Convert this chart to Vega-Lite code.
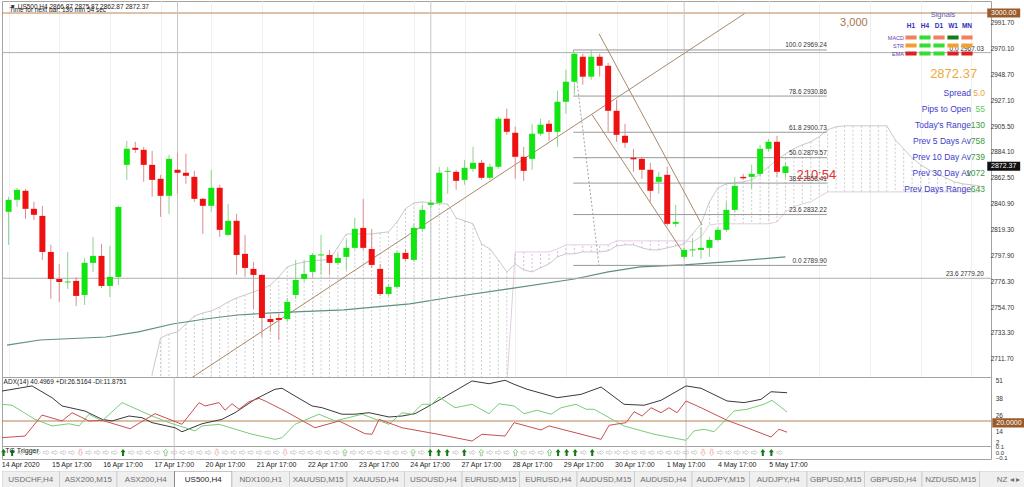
{
"$schema": "https://vega.github.io/schema/vega-lite/v6.json",
"background": "white",
"padding": 0,
"spacing": 0,
"bounds": "flush",
"config": {"font": "Liberation Sans", "view": {"stroke": "#a3a3a3", "strokeWidth": 1}, "axis": {"labelFont": "Liberation Sans", "labelOverlap": false}, "text": {"font": "Liberation Sans"}},
"datasets": {
"candles": [
{"i":0,"o":2834.5,"h":2847.0,"l":2807.0,"c":2844.5},
{"i":1,"o":2844.5,"h":2854.5,"l":2838.6,"c":2852.8},
{"i":2,"o":2852.0,"h":2853.6,"l":2828.6,"c":2837.0},
{"i":3,"o":2837.0,"h":2842.8,"l":2827.8,"c":2832.0},
{"i":4,"o":2831.1,"h":2839.5,"l":2794.5,"c":2801.1},
{"i":5,"o":2801.1,"h":2807.0,"l":2762.0,"c":2778.6},
{"i":6,"o":2778.6,"h":2791.1,"l":2759.5,"c":2776.1},
{"i":7,"o":2775.7,"h":2801.1,"l":2770.3,"c":2776.5},
{"i":8,"o":2777.0,"h":2780.3,"l":2756.1,"c":2764.5},
{"i":9,"o":2765.3,"h":2796.1,"l":2757.0,"c":2792.0},
{"i":10,"o":2792.0,"h":2813.6,"l":2784.5,"c":2797.8},
{"i":11,"o":2797.8,"h":2807.8,"l":2771.1,"c":2772.8},
{"i":12,"o":2772.8,"h":2806.1,"l":2763.6,"c":2780.3},
{"i":13,"o":2780.3,"h":2839.5,"l":2773.6,"c":2838.6},
{"i":14,"o":2873.6,"h":2893.6,"l":2861.1,"c":2887.0},
{"i":15,"o":2887.8,"h":2892.8,"l":2883.6,"c":2886.1},
{"i":16,"o":2886.1,"h":2888.6,"l":2859.5,"c":2873.6},
{"i":17,"o":2873.6,"h":2885.3,"l":2847.0,"c":2861.1},
{"i":18,"o":2862.0,"h":2865.3,"l":2830.3,"c":2847.8},
{"i":19,"o":2847.8,"h":2882.0,"l":2832.8,"c":2878.6},
{"i":20,"o":2869.5,"h":2883.6,"l":2849.5,"c":2867.0},
{"i":21,"o":2867.0,"h":2882.8,"l":2857.8,"c":2864.5},
{"i":22,"o":2863.6,"h":2868.6,"l":2842.8,"c":2845.3},
{"i":23,"o":2845.3,"h":2846.1,"l":2816.1,"c":2839.5},
{"i":24,"o":2839.5,"h":2869.5,"l":2834.5,"c":2854.5},
{"i":25,"o":2854.5,"h":2857.0,"l":2813.6,"c":2819.5},
{"i":26,"o":2815.3,"h":2841.1,"l":2814.5,"c":2827.0},
{"i":27,"o":2827.0,"h":2832.8,"l":2782.0,"c":2798.6},
{"i":28,"o":2799.5,"h":2815.3,"l":2780.3,"c":2787.8},
{"i":29,"o":2787.0,"h":2792.8,"l":2753.6,"c":2782.0},
{"i":30,"o":2782.0,"h":2782.8,"l":2730.3,"c":2746.1},
{"i":31,"o":2745.3,"h":2748.6,"l":2734.5,"c":2742.8},
{"i":32,"o":2746.1,"h":2749.5,"l":2727.8,"c":2744.5},
{"i":33,"o":2745.3,"h":2762.8,"l":2742.8,"c":2759.5},
{"i":34,"o":2765.3,"h":2794.5,"l":2762.0,"c":2777.8},
{"i":35,"o":2778.6,"h":2794.5,"l":2776.1,"c":2782.8},
{"i":36,"o":2784.5,"h":2800.3,"l":2780.3,"c":2798.6},
{"i":37,"o":2798.2,"h":2815.3,"l":2782.0,"c":2799.0},
{"i":38,"o":2798.6,"h":2802.8,"l":2782.0,"c":2792.0},
{"i":39,"o":2792.0,"h":2800.3,"l":2790.3,"c":2796.1},
{"i":40,"o":2797.0,"h":2811.1,"l":2786.1,"c":2804.5},
{"i":41,"o":2804.5,"h":2829.5,"l":2802.8,"c":2820.3},
{"i":42,"o":2821.1,"h":2845.3,"l":2802.8,"c":2804.5},
{"i":43,"o":2803.6,"h":2820.3,"l":2787.8,"c":2790.3},
{"i":44,"o":2787.0,"h":2791.1,"l":2764.5,"c":2766.1},
{"i":45,"o":2766.1,"h":2774.5,"l":2764.5,"c":2772.0},
{"i":46,"o":2772.0,"h":2802.0,"l":2770.3,"c":2800.3},
{"i":47,"o":2800.3,"h":2803.6,"l":2793.6,"c":2795.3},
{"i":48,"o":2794.5,"h":2824.5,"l":2792.8,"c":2821.1},
{"i":49,"o":2820.3,"h":2840.3,"l":2817.8,"c":2836.1},
{"i":50,"o":2840.3,"h":2844.5,"l":2837.8,"c":2842.0},
{"i":51,"o":2842.0,"h":2872.0,"l":2841.1,"c":2867.0},
{"i":52,"o":2867.8,"h":2872.0,"l":2849.5,"c":2868.6},
{"i":53,"o":2867.8,"h":2869.5,"l":2852.8,"c":2860.3},
{"i":54,"o":2861.1,"h":2877.8,"l":2857.0,"c":2871.1},
{"i":55,"o":2870.3,"h":2888.6,"l":2867.8,"c":2875.3},
{"i":56,"o":2875.3,"h":2877.8,"l":2861.1,"c":2862.8},
{"i":57,"o":2862.8,"h":2874.5,"l":2861.1,"c":2872.0},
{"i":58,"o":2872.0,"h":2913.6,"l":2870.3,"c":2912.0},
{"i":59,"o":2912.0,"h":2920.3,"l":2898.6,"c":2901.1},
{"i":60,"o":2900.3,"h":2905.3,"l":2862.0,"c":2880.3},
{"i":61,"o":2880.3,"h":2888.6,"l":2860.3,"c":2868.6},
{"i":62,"o":2878.6,"h":2907.8,"l":2869.5,"c":2899.5},
{"i":63,"o":2899.5,"h":2912.0,"l":2897.8,"c":2907.0},
{"i":64,"o":2907.8,"h":2911.1,"l":2893.6,"c":2901.1},
{"i":65,"o":2901.1,"h":2935.3,"l":2888.6,"c":2926.1},
{"i":66,"o":2926.1,"h":2952.8,"l":2916.1,"c":2942.8},
{"i":67,"o":2942.8,"h":2966.5,"l":2932.0,"c":2966.1},
{"i":68,"o":2963.6,"h":2966.1,"l":2940.3,"c":2947.0},
{"i":69,"o":2947.0,"h":2969.2,"l":2944.5,"c":2963.6},
{"i":70,"o":2963.6,"h":2966.1,"l":2947.0,"c":2956.1},
{"i":71,"o":2956.1,"h":2958.6,"l":2901.1,"c":2918.6},
{"i":72,"o":2918.6,"h":2927.8,"l":2892.8,"c":2898.6},
{"i":73,"o":2897.8,"h":2907.8,"l":2887.8,"c":2892.0},
{"i":74,"o":2879.5,"h":2887.0,"l":2867.8,"c":2878.2},
{"i":75,"o":2878.6,"h":2880.3,"l":2862.0,"c":2869.5},
{"i":76,"o":2869.5,"h":2875.3,"l":2842.8,"c":2852.0},
{"i":77,"o":2859.5,"h":2867.8,"l":2849.5,"c":2863.6},
{"i":78,"o":2865.3,"h":2872.0,"l":2822.8,"c":2824.5},
{"i":79,"o":2824.5,"h":2840.3,"l":2822.0,"c":2826.1},
{"i":80,"o":2797.0,"h":2804.5,"l":2795.3,"c":2802.8},
{"i":81,"o":2802.4,"h":2812.0,"l":2797.0,"c":2803.2},
{"i":82,"o":2802.8,"h":2822.0,"l":2795.3,"c":2804.5},
{"i":83,"o":2804.5,"h":2813.6,"l":2797.0,"c":2811.1},
{"i":84,"o":2811.1,"h":2822.0,"l":2809.5,"c":2819.5},
{"i":85,"o":2819.5,"h":2842.8,"l":2817.8,"c":2836.1},
{"i":86,"o":2836.1,"h":2863.6,"l":2834.5,"c":2856.1},
{"i":87,"o":2863.6,"h":2866.1,"l":2861.1,"c":2862.4},
{"i":88,"o":2863.6,"h":2873.6,"l":2853.6,"c":2866.1},
{"i":89,"o":2866.1,"h":2890.3,"l":2863.6,"c":2887.0},
{"i":90,"o":2887.0,"h":2895.3,"l":2884.5,"c":2892.8},
{"i":91,"o":2892.8,"h":2897.8,"l":2863.6,"c":2867.8},
{"i":92,"o":2866.87,"h":2875.87,"l":2862.87,"c":2872.37}
],
"cloud": [
{"i":17,"a":2699.5,"b":2690},{"i":18,"a":2729.5,"b":2690},{"i":19,"a":2732.8,"b":2690},{"i":20,"a":2734.5,"b":2690},
{"i":21,"a":2741.1,"b":2690},{"i":22,"a":2747.8,"b":2690},{"i":23,"a":2750.3,"b":2690},{"i":24,"a":2752.0,"b":2690},
{"i":25,"a":2755.3,"b":2690},{"i":26,"a":2759.5,"b":2690},{"i":27,"a":2762.8,"b":2690},{"i":28,"a":2765.3,"b":2690},
{"i":29,"a":2767.8,"b":2690},{"i":30,"a":2770.3,"b":2690},{"i":31,"a":2773.6,"b":2690},{"i":32,"a":2780.3,"b":2690},
{"i":33,"a":2788.6,"b":2690},{"i":34,"a":2791.1,"b":2690},{"i":35,"a":2792.8,"b":2690},{"i":36,"a":2793.6,"b":2690},
{"i":37,"a":2794.5,"b":2690},{"i":38,"a":2794.5,"b":2690},{"i":39,"a":2805.3,"b":2690},{"i":40,"a":2816.1,"b":2690},
{"i":41,"a":2816.1,"b":2690},{"i":42,"a":2816.1,"b":2690},{"i":43,"a":2816.1,"b":2690},{"i":44,"a":2817.0,"b":2690},
{"i":45,"a":2817.8,"b":2690},{"i":46,"a":2826.1,"b":2690},{"i":47,"a":2837.0,"b":2690},{"i":48,"a":2842.0,"b":2690},
{"i":49,"a":2842.8,"b":2690},{"i":50,"a":2842.0,"b":2690},{"i":51,"a":2841.1,"b":2690},{"i":52,"a":2841.1,"b":2690},
{"i":53,"a":2829.5,"b":2690},{"i":54,"a":2827.0,"b":2690},{"i":55,"a":2824.5,"b":2690},{"i":56,"a":2807.8,"b":2690},
{"i":57,"a":2803.6,"b":2690},{"i":58,"a":2794.5,"b":2690},{"i":59,"a":2784.5,"b":2690},
{"i":60,"a":2791.1,"b":2801.1},{"i":61,"a":2786.1,"b":2801.1},{"i":62,"a":2784.5,"b":2801.1},{"i":63,"a":2787.8,"b":2801.1},
{"i":64,"a":2791.1,"b":2801.1},{"i":65,"a":2797.0,"b":2803.6},{"i":66,"a":2799.5,"b":2807.0},{"i":67,"a":2799.5,"b":2807.0},
{"i":68,"a":2801.1,"b":2807.0},{"i":69,"a":2801.1,"b":2807.0},{"i":70,"a":2801.1,"b":2807.0},{"i":71,"a":2802.0,"b":2807.0},
{"i":72,"a":2806.1,"b":2810.3},{"i":73,"a":2807.0,"b":2810.3},{"i":74,"a":2807.0,"b":2810.3},{"i":75,"a":2804.5,"b":2810.3},
{"i":76,"a":2802.8,"b":2810.3},{"i":77,"a":2802.8,"b":2810.3},{"i":78,"a":2804.5,"b":2810.3},{"i":79,"a":2806.1,"b":2810.3},
{"i":80,"a":2807.8,"b":2810.3},
{"i":81,"a":2816.1,"b":2809.5},{"i":82,"a":2824.5,"b":2813.6},{"i":83,"a":2842.8,"b":2823.6},{"i":84,"a":2854.5,"b":2824.5},
{"i":85,"a":2857.8,"b":2824.5},{"i":86,"a":2858.6,"b":2824.5},{"i":87,"a":2859.5,"b":2824.5},{"i":88,"a":2861.1,"b":2824.5},
{"i":89,"a":2866.1,"b":2824.5},{"i":90,"a":2872.0,"b":2824.5},{"i":91,"a":2877.8,"b":2826.1},{"i":92,"a":2882.8,"b":2834.5},
{"i":93,"a":2887.0,"b":2838.6},{"i":94,"a":2890.3,"b":2841.1},{"i":95,"a":2892.8,"b":2842.8},{"i":96,"a":2897.0,"b":2847.0},
{"i":97,"a":2902.8,"b":2851.1},{"i":98,"a":2905.3,"b":2851.1},{"i":99,"a":2906.1,"b":2851.1},{"i":100,"a":2906.1,"b":2851.1},
{"i":101,"a":2906.1,"b":2851.1},{"i":102,"a":2906.1,"b":2851.1},{"i":103,"a":2906.1,"b":2851.1},{"i":104,"a":2906.1,"b":2851.1},
{"i":105,"a":2894.5,"b":2851.1},{"i":106,"a":2887.0,"b":2851.1},{"i":107,"a":2879.5,"b":2851.1},{"i":108,"a":2873.6,"b":2851.1},
{"i":109,"a":2869.5,"b":2851.1},{"i":110,"a":2866.1,"b":2851.1},{"i":111,"a":2862.8,"b":2851.1},{"i":112,"a":2859.5,"b":2851.1},
{"i":113,"a":2857.8,"b":2851.1},{"i":114,"a":2857.0,"b":2851.1},{"i":115,"a":2856.1,"b":2851.1}
],
"ma": [
{"i":-0.19,"p":2723.6},{"i":3.7,"p":2727.8},{"i":11.5,"p":2730.3},{"i":15.4,"p":2734.5},{"i":19.4,"p":2741.1},
{"i":23.3,"p":2745.3},{"i":27.1,"p":2748.6},{"i":31.1,"p":2750.3},{"i":39.7,"p":2752.8},{"i":47.5,"p":2757.8},
{"i":52.6,"p":2763.6},{"i":59.2,"p":2770.3},{"i":67,"p":2778.6},{"i":71,"p":2784.5},{"i":74.8,"p":2788.6},
{"i":80,"p":2790.3},{"i":85,"p":2792.8},{"i":92,"p":2797.0}
],
"pticks": [{"p":2991.7},{"p":2970.1},{"p":2948.7},{"p":2927.1},{"p":2905.5},{"p":2884.1},{"p":2862.5},{"p":2840.9},{"p":2819.3},{"p":2797.9},{"p":2776.3},{"p":2754.7},{"p":2733.3},{"p":2711.7}],
"aticks": [{"v":51},{"v":38},{"v":26},{"v":14}],
"sticks": [{"v":0.1},{"v":0.0},{"v":-0.1}],
"hlines": [{"p":2967.03,"label":"0.0    2967.03"},{"p":2779.2,"label":"23.6    2779.20"}],
"fib": [
{"p":2969.24,"label":"100.0   2969.24"},{"p":2930.86,"label":"78.6   2930.86"},{"p":2900.73,"label":"61.8   2900.73"},
{"p":2879.57,"label":"50.0   2879.57"},{"p":2858.41,"label":"38.2   2858.41"},{"p":2832.22,"label":"23.6   2832.22"},
{"p":2789.90,"label":"0.0   2789.90"}
],
"fibdiag": [{"i":66.87,"p":2969.24},{"i":69.92,"p":2789.9}],
"tlines": [
{"id":"up","i":21.62,"p":2696.1},{"id":"up","i":87.15,"p":2999.5},
{"id":"chu","i":69.92,"p":2982.8},{"id":"chu","i":82.11,"p":2823.6},
{"id":"chl","i":69.1,"p":2915.3},{"id":"chl","i":79.77,"p":2802.0}
],
"seps": [{"i":20},{"i":50},{"i":80}],
"adx": [
{"s":"ADX","i":-0.19,"v":41.7},{"s":"ADX","i":3.33,"v":45.4},{"s":"ADX","i":5.67,"v":36.9},{"s":"ADX","i":6.85,"v":30.9},
{"s":"ADX","i":9.54,"v":27.2},{"s":"ADX","i":11.54,"v":21.2},{"s":"ADX","i":12.71,"v":20.0},{"s":"ADX","i":14.7,"v":23.6},
{"s":"ADX","i":16.22,"v":22.4},{"s":"ADX","i":17.4,"v":18.8},{"s":"ADX","i":20.09,"v":15.1},{"s":"ADX","i":20.91,"v":12.2},
{"s":"ADX","i":23.26,"v":18.0},{"s":"ADX","i":25.6,"v":21.2},{"s":"ADX","i":27.13,"v":26.0},{"s":"ADX","i":29.47,"v":35.7},
{"s":"ADX","i":31.82,"v":43.0},{"s":"ADX","i":32.64,"v":43.7},{"s":"ADX","i":34.16,"v":38.1},{"s":"ADX","i":36.16,"v":30.9},
{"s":"ADX","i":37.34,"v":29.6},{"s":"ADX","i":39.67,"v":24.9},{"s":"ADX","i":41.2,"v":24.9},{"s":"ADX","i":42.84,"v":26.0},
{"s":"ADX","i":45.18,"v":22.9},{"s":"ADX","i":46.71,"v":23.6},{"s":"ADX","i":48.23,"v":25.3},{"s":"ADX","i":49.87,"v":30.9},
{"s":"ADX","i":52.21,"v":39.3},{"s":"ADX","i":54.91,"v":49.0},{"s":"ADX","i":56.9,"v":47.0},{"s":"ADX","i":58.78,"v":49.5},
{"s":"ADX","i":59.84,"v":46.6},{"s":"ADX","i":61.36,"v":43.0},{"s":"ADX","i":64.88,"v":36.9},{"s":"ADX","i":67.69,"v":39.3},
{"s":"ADX","i":70.04,"v":44.6},{"s":"ADX","i":72.73,"v":32.1},{"s":"ADX","i":75.08,"v":31.4},{"s":"ADX","i":77.07,"v":35.0},
{"s":"ADX","i":80.0,"v":45.4},{"s":"ADX","i":81.76,"v":43.7},{"s":"ADX","i":84.81,"v":34.5},{"s":"ADX","i":86.8,"v":33.3},
{"s":"ADX","i":88.79,"v":35.7},{"s":"ADX","i":89.96,"v":41.2},{"s":"ADX","i":91.84,"v":40.5},
{"s":"+DI","i":-0.19,"v":32.1},{"s":"+DI","i":0.98,"v":31.4},{"s":"+DI","i":3.68,"v":21.2},{"s":"+DI","i":5.67,"v":16.4},
{"s":"+DI","i":7.67,"v":18.0},{"s":"+DI","i":8.84,"v":16.4},{"s":"+DI","i":10.01,"v":24.9},{"s":"+DI","i":11.54,"v":20.0},
{"s":"+DI","i":13.88,"v":33.3},{"s":"+DI","i":17.4,"v":23.6},{"s":"+DI","i":19.39,"v":18.8},{"s":"+DI","i":22.44,"v":12.8},
{"s":"+DI","i":23.26,"v":16.4},{"s":"+DI","i":25.25,"v":17.6},{"s":"+DI","i":29.12,"v":10.4},{"s":"+DI","i":31.82,"v":6.7},
{"s":"+DI","i":32.64,"v":7.9},{"s":"+DI","i":34.16,"v":17.6},{"s":"+DI","i":36.98,"v":24.9},{"s":"+DI","i":38.86,"v":20.0},
{"s":"+DI","i":42.02,"v":24.9},{"s":"+DI","i":45.18,"v":17.6},{"s":"+DI","i":46.71,"v":26.0},{"s":"+DI","i":47.88,"v":24.9},
{"s":"+DI","i":49.05,"v":32.1},{"s":"+DI","i":50.22,"v":32.1},{"s":"+DI","i":51.04,"v":37.4},{"s":"+DI","i":52.92,"v":29.6},
{"s":"+DI","i":54.91,"v":32.1},{"s":"+DI","i":56.9,"v":25.3},{"s":"+DI","i":58.07,"v":32.5},{"s":"+DI","i":59.84,"v":30.9},
{"s":"+DI","i":61.01,"v":25.3},{"s":"+DI","i":62.53,"v":27.8},{"s":"+DI","i":64.17,"v":24.9},{"s":"+DI","i":65.35,"v":29.6},
{"s":"+DI","i":67.1,"v":32.1},{"s":"+DI","i":68.28,"v":28.5},{"s":"+DI","i":69.22,"v":28.5},{"s":"+DI","i":72.73,"v":16.4},
{"s":"+DI","i":76.25,"v":10.4},{"s":"+DI","i":80.0,"v":6.0},{"s":"+DI","i":80.94,"v":12.8},{"s":"+DI","i":82.11,"v":14.0},
{"s":"+DI","i":83.28,"v":12.2},{"s":"+DI","i":85.63,"v":27.2},{"s":"+DI","i":87.15,"v":28.5},{"s":"+DI","i":89.14,"v":32.1},
{"s":"+DI","i":90.08,"v":35.0},{"s":"+DI","i":91.84,"v":26.5},
{"s":"-DI","i":-0.19,"v":7.9},{"s":"-DI","i":2.51,"v":9.1},{"s":"-DI","i":4.5,"v":24.3},{"s":"-DI","i":6.85,"v":20.0},
{"s":"-DI","i":8.02,"v":26.0},{"s":"-DI","i":10.01,"v":20.0},{"s":"-DI","i":11.54,"v":20.5},{"s":"-DI","i":14.82,"v":14.4},
{"s":"-DI","i":17.75,"v":25.3},{"s":"-DI","i":20.91,"v":17.6},{"s":"-DI","i":22.91,"v":33.3},{"s":"-DI","i":23.61,"v":30.9},
{"s":"-DI","i":25.25,"v":33.3},{"s":"-DI","i":25.96,"v":27.8},{"s":"-DI","i":26.78,"v":32.5},{"s":"-DI","i":27.6,"v":28.5},
{"s":"-DI","i":28.77,"v":34.0},{"s":"-DI","i":29.94,"v":36.4},{"s":"-DI","i":30.65,"v":34.5},{"s":"-DI","i":32.99,"v":27.2},
{"s":"-DI","i":36.51,"v":15.1},{"s":"-DI","i":39.32,"v":20.0},{"s":"-DI","i":42.37,"v":10.8},{"s":"-DI","i":43.19,"v":10.4},
{"s":"-DI","i":44.01,"v":21.2},{"s":"-DI","i":46.71,"v":15.1},{"s":"-DI","i":50.57,"v":10.8},{"s":"-DI","i":54.91,"v":5.5},
{"s":"-DI","i":56.08,"v":10.4},{"s":"-DI","i":58.78,"v":9.1},{"s":"-DI","i":59.84,"v":18.8},{"s":"-DI","i":63.0,"v":13.5},
{"s":"-DI","i":63.94,"v":16.4},{"s":"-DI","i":70.04,"v":6.7},{"s":"-DI","i":70.98,"v":16.9},{"s":"-DI","i":72.97,"v":18.8},
{"s":"-DI","i":73.91,"v":26.7},{"s":"-DI","i":74.85,"v":23.6},{"s":"-DI","i":75.9,"v":29.6},{"s":"-DI","i":77.07,"v":26.0},
{"s":"-DI","i":78.01,"v":29.6},{"s":"-DI","i":78.95,"v":26.0},{"s":"-DI","i":80.0,"v":34.5},{"s":"-DI","i":81.76,"v":29.6},
{"s":"-DI","i":84.81,"v":20.5},{"s":"-DI","i":87.15,"v":15.1},{"s":"-DI","i":89.96,"v":8.4},{"s":"-DI","i":90.9,"v":14.0},
{"s":"-DI","i":91.84,"v":11.9}
],
"arrows": [
{"i":0,"sig":"up"},{"i":1,"sig":"up"},{"i":2,"sig":"flat"},{"i":3,"sig":"flat"},{"i":4,"sig":"flat"},{"i":5,"sig":"flat"},
{"i":6,"sig":"flat"},{"i":7,"sig":"flat"},{"i":8,"sig":"flat"},{"i":9,"sig":"dn"},{"i":10,"sig":"flat"},{"i":11,"sig":"flat"},
{"i":12,"sig":"flat"},{"i":13,"sig":"flat"},{"i":14,"sig":"up"},{"i":15,"sig":"flat"},{"i":16,"sig":"flat"},{"i":17,"sig":"flat"},
{"i":18,"sig":"flat"},{"i":19,"sig":"uph"},{"i":20,"sig":"flat"},{"i":21,"sig":"flat"},{"i":22,"sig":"flat"},{"i":23,"sig":"flat"},
{"i":24,"sig":"flat"},{"i":25,"sig":"dn"},{"i":26,"sig":"flat"},{"i":27,"sig":"flat"},{"i":28,"sig":"flat"},{"i":29,"sig":"flat"},
{"i":30,"sig":"flat"},{"i":31,"sig":"flat"},{"i":32,"sig":"flat"},{"i":33,"sig":"dn"},{"i":34,"sig":"flat"},{"i":35,"sig":"flat"},
{"i":36,"sig":"flat"},{"i":37,"sig":"flat"},{"i":38,"sig":"flat"},{"i":39,"sig":"flat"},{"i":40,"sig":"uph"},{"i":41,"sig":"flat"},
{"i":42,"sig":"flat"},{"i":43,"sig":"flat"},{"i":44,"sig":"flat"},{"i":45,"sig":"flat"},{"i":46,"sig":"flat"},{"i":47,"sig":"flat"},
{"i":48,"sig":"uph"},{"i":49,"sig":"flat"},{"i":50,"sig":"up"},{"i":51,"sig":"up"},{"i":52,"sig":"up"},{"i":53,"sig":"flat"},
{"i":54,"sig":"up"},{"i":55,"sig":"flat"},{"i":56,"sig":"uph"},{"i":57,"sig":"flat"},{"i":58,"sig":"flat"},{"i":59,"sig":"flat"},
{"i":60,"sig":"uph"},{"i":61,"sig":"flat"},{"i":62,"sig":"flat"},{"i":63,"sig":"flat"},{"i":64,"sig":"uph"},{"i":65,"sig":"up"},
{"i":66,"sig":"up"},{"i":67,"sig":"up"},{"i":68,"sig":"flat"},{"i":69,"sig":"up"},{"i":70,"sig":"flat"},{"i":71,"sig":"flat"},
{"i":72,"sig":"flat"},{"i":73,"sig":"flat"},{"i":74,"sig":"flat"},{"i":75,"sig":"flat"},{"i":76,"sig":"flat"},{"i":77,"sig":"flat"},
{"i":78,"sig":"flat"},{"i":79,"sig":"flat"},{"i":80,"sig":"flat"},{"i":81,"sig":"flat"},{"i":82,"sig":"dn"},{"i":83,"sig":"dn"},
{"i":84,"sig":"flat"},{"i":85,"sig":"flat"},{"i":86,"sig":"flat"},{"i":87,"sig":"flat"},{"i":88,"sig":"flat"},{"i":89,"sig":"up"},
{"i":90,"sig":"up"},{"i":91,"sig":"flat"}
],
"dates": [
{"i":2,"t":"14 Apr 2020"},{"i":8,"t":"15 Apr 17:00"},{"i":14,"t":"16 Apr 17:00"},{"i":20,"t":"17 Apr 17:00"},
{"i":26,"t":"20 Apr 17:00"},{"i":32,"t":"21 Apr 17:00"},{"i":38,"t":"22 Apr 17:00"},{"i":44,"t":"23 Apr 17:00"},
{"i":50,"t":"24 Apr 17:00"},{"i":56,"t":"27 Apr 17:00"},{"i":62,"t":"28 Apr 17:00"},{"i":68,"t":"29 Apr 17:00"},
{"i":74,"t":"30 Apr 17:00"},{"i":80,"t":"1 May 17:00"},{"i":86,"t":"4 May 17:00"},{"i":92,"t":"5 May 17:00"}
],
"info": [
{"row":"Spread","val":"5.0"},{"row":"Pips to Open","val":"55"},{"row":"Today's Range","val":"130"},
{"row":"Prev 5 Days Av","val":"758"},{"row":"Prev 10 Day Av","val":"739"},{"row":"Prev 30 Day Av","val":"1072"},
{"row":"Prev Days Range","val":"643"}
],
"signals": [
{"ind":"MACD","tf":"H1","state":"down"},{"ind":"MACD","tf":"H4","state":"up"},{"ind":"MACD","tf":"D1","state":"down"},
{"ind":"MACD","tf":"W1","state":"strong_up"},{"ind":"MACD","tf":"MN","state":"down"},
{"ind":"STR","tf":"H1","state":"neutral"},{"ind":"STR","tf":"H4","state":"up"},{"ind":"STR","tf":"D1","state":"up"},
{"ind":"STR","tf":"W1","state":"neutral"},{"ind":"STR","tf":"MN","state":"neutral"},
{"ind":"EMA","tf":"H1","state":"strong_down"},{"ind":"EMA","tf":"H4","state":"up"},{"ind":"EMA","tf":"D1","state":"up"},
{"ind":"EMA","tf":"W1","state":"strong_down"},{"ind":"EMA","tf":"MN","state":"strong_down"}
],
"tabs": [
{"tab":"USDCHF,H4","active":false},{"tab":"ASX200,M15","active":false},{"tab":"ASX200,H4","active":false},
{"tab":"US500,H4","active":true},{"tab":"NDX100,H1","active":false},{"tab":"XAUUSD,M15","active":false},
{"tab":"XAUUSD,H4","active":false},{"tab":"USOUSD,H4","active":false},{"tab":"EURUSD,M15","active":false},
{"tab":"EURUSD,H4","active":false},{"tab":"AUDUSD,M15","active":false},{"tab":"AUDUSD,H4","active":false},
{"tab":"AUDJPY,M15","active":false},{"tab":"AUDJPY,H4","active":false},{"tab":"GBPUSD,M15","active":false},
{"tab":"GBPUSD,H4","active":false},{"tab":"NZDUSD,M15","active":false},{"tab":"NZ  ◂ ▸","active":false}
]
},
"vconcat": [
{
"width": 989, "height": 376,
"layer": [
{"layer": [
{"data": {"name": "cloud"}, "transform": [{"filter": "datum.a >= datum.b"}],
 "mark": {"type": "rule", "color": "#cdcdcd", "strokeDash": [2, 2], "clip": true},
 "encoding": {
  "x": {"field": "i", "type": "quantitative", "scale": {"domain": [-0.19, 115.75], "nice": false},
        "axis": {"orient": "bottom", "values": [0,3,6,9,12,15,18,21,24,27,30,33,36,39,42,45,48,51,54,57,60,63,66,69,72,75,78,81,84,87,90,93,96,99,102,105,108,111,114], "grid": true, "gridColor": "#f0f0f0", "labels": false, "ticks": false, "domain": false, "title": null}},
  "y": {"field": "a", "type": "quantitative", "scale": {"domain": [2697, 3010], "nice": false}, "axis": null},
  "y2": {"field": "b"}}},
{"data": {"name": "cloud"}, "transform": [{"filter": "datum.a < datum.b"}],
 "mark": {"type": "rule", "color": "#dfb3df", "strokeDash": [2, 2], "clip": true},
 "encoding": {"x": {"field": "i", "type": "quantitative", "scale": {"domain": [-0.19, 115.75], "nice": false}}, "y": {"field": "a", "type": "quantitative", "scale": {"domain": [2697, 3010], "nice": false}}, "y2": {"field": "b"}}},
{"data": {"name": "cloud"}, "mark": {"type": "line", "color": "#c9c9c9", "strokeWidth": 1, "clip": true},
 "encoding": {"x": {"field": "i", "type": "quantitative", "scale": {"domain": [-0.19, 115.75], "nice": false}}, "y": {"field": "a", "type": "quantitative", "scale": {"domain": [2697, 3010], "nice": false}}}},
{"data": {"name": "cloud"}, "mark": {"type": "line", "color": "#e2cde2", "strokeWidth": 1, "clip": true},
 "encoding": {"x": {"field": "i", "type": "quantitative", "scale": {"domain": [-0.19, 115.75], "nice": false}}, "y": {"field": "b", "type": "quantitative", "scale": {"domain": [2697, 3010], "nice": false}}}},
{"data": {"name": "ma"}, "mark": {"type": "line", "color": "#5f8e84", "strokeWidth": 1.2, "clip": true},
 "encoding": {"x": {"field": "i", "type": "quantitative", "scale": {"domain": [-0.19, 115.75], "nice": false}}, "y": {"field": "p", "type": "quantitative", "scale": {"domain": [2697, 3010], "nice": false}}}},
{"data": {"name": "hlines"}, "mark": {"type": "rule", "color": "#adadad"},
 "encoding": {"y": {"field": "p", "type": "quantitative", "scale": {"domain": [2697, 3010], "nice": false}}}},
{"data": {"name": "hlines"}, "mark": {"type": "text", "align": "right", "dy": -4, "fontSize": 6.5, "color": "#333333"},
 "encoding": {"x": {"datum": 115.5, "type": "quantitative", "scale": {"domain": [-0.19, 115.75], "nice": false}}, "y": {"field": "p", "type": "quantitative", "scale": {"domain": [2697, 3010], "nice": false}}, "text": {"field": "label"}}},
{"data": {"values": [{}]}, "mark": {"type": "rule", "color": "#c28350"},
 "encoding": {"y": {"datum": 3000, "type": "quantitative", "scale": {"domain": [2697, 3010], "nice": false}}}},
{"data": {"name": "seps"}, "mark": {"type": "rule", "color": "#c6c6c6"},
 "encoding": {"x": {"field": "i", "type": "quantitative", "scale": {"domain": [-0.19, 115.75], "nice": false}}}},
{"data": {"name": "fib"}, "mark": {"type": "rule", "color": "#999999"},
 "encoding": {"x": {"datum": 66.87, "type": "quantitative", "scale": {"domain": [-0.19, 115.75], "nice": false}}, "x2": {"datum": 96.9}, "y": {"field": "p", "type": "quantitative", "scale": {"domain": [2697, 3010], "nice": false}}}},
{"data": {"name": "fib"}, "mark": {"type": "text", "align": "right", "dy": -4.5, "fontSize": 6.5, "color": "#333333"},
 "encoding": {"x": {"datum": 96.9, "type": "quantitative", "scale": {"domain": [-0.19, 115.75], "nice": false}}, "y": {"field": "p", "type": "quantitative", "scale": {"domain": [2697, 3010], "nice": false}}, "text": {"field": "label"}}},
{"data": {"name": "fibdiag"}, "mark": {"type": "line", "color": "#8c8c8c", "strokeWidth": 0.8, "strokeDash": [2, 2]},
 "encoding": {"x": {"field": "i", "type": "quantitative", "scale": {"domain": [-0.19, 115.75], "nice": false}}, "y": {"field": "p", "type": "quantitative", "scale": {"domain": [2697, 3010], "nice": false}}}},
{"data": {"name": "tlines"}, "mark": {"type": "line", "color": "#a8896a", "strokeWidth": 1, "clip": true},
 "encoding": {"x": {"field": "i", "type": "quantitative", "scale": {"domain": [-0.19, 115.75], "nice": false}}, "y": {"field": "p", "type": "quantitative", "scale": {"domain": [2697, 3010], "nice": false}}, "detail": {"field": "id"}}},
{"data": {"name": "candles"}, "mark": {"type": "rule", "strokeWidth": 1},
 "encoding": {"x": {"field": "i", "type": "quantitative", "scale": {"domain": [-0.19, 115.75], "nice": false}}, "y": {"field": "l", "type": "quantitative", "scale": {"domain": [2697, 3010], "nice": false}}, "y2": {"field": "h"},
  "color": {"condition": {"test": "datum.c >= datum.o", "value": "#8cd48c"}, "value": "#dc8e8e"}}},
{"data": {"name": "candles"}, "mark": {"type": "bar", "size": 6},
 "encoding": {"x": {"field": "i", "type": "quantitative", "scale": {"domain": [-0.19, 115.75], "nice": false}}, "y": {"field": "o", "type": "quantitative", "scale": {"domain": [2697, 3010], "nice": false}}, "y2": {"field": "c"},
  "color": {"condition": {"test": "datum.c >= datum.o", "value": "#11e411"}, "value": "#ee1111"}}},
{"data": {"values": [{}]}, "mark": {"type": "text", "align": "left", "fontSize": 6.5, "color": "#222222", "text": "▼ US500,H4  2866.87 2875.87 2862.87 2872.37"},
 "encoding": {"x": {"datum": 0.1, "type": "quantitative", "scale": {"domain": [-0.19, 115.75], "nice": false}}, "y": {"datum": 3005.3, "type": "quantitative", "scale": {"domain": [2697, 3010], "nice": false}}}},
{"data": {"values": [{}]}, "mark": {"type": "text", "align": "left", "fontSize": 6.5, "color": "#222222", "text": "Time for next bar: 130 min 54 sec"},
 "encoding": {"x": {"datum": 0.1, "type": "quantitative", "scale": {"domain": [-0.19, 115.75], "nice": false}}, "y": {"datum": 3002.6, "type": "quantitative", "scale": {"domain": [2697, 3010], "nice": false}}}},
{"data": {"values": [{}]}, "mark": {"type": "text", "fontSize": 11, "color": "#a8764e", "text": "3,000"},
 "encoding": {"x": {"datum": 100.1, "type": "quantitative", "scale": {"domain": [-0.19, 115.75], "nice": false}}, "y": {"datum": 2991.9, "type": "quantitative", "scale": {"domain": [2697, 3010], "nice": false}}}},
{"data": {"values": [{}]}, "mark": {"type": "text", "align": "right", "fontSize": 13, "color": "#eeaa3c", "text": "2872.37"},
 "encoding": {"x": {"datum": 114.7, "type": "quantitative", "scale": {"domain": [-0.19, 115.75], "nice": false}}, "y": {"datum": 2949.4, "type": "quantitative", "scale": {"domain": [2697, 3010], "nice": false}}}},
{"data": {"values": [{}]}, "mark": {"type": "text", "align": "left", "fontSize": 13, "color": "#e03030", "text": "210:54"},
 "encoding": {"x": {"datum": 93.3, "type": "quantitative", "scale": {"domain": [-0.19, 115.75], "nice": false}}, "y": {"datum": 2865.3, "type": "quantitative", "scale": {"domain": [2697, 3010], "nice": false}}}},
{"data": {"name": "pticks"}, "mark": {"type": "text", "align": "left", "fontSize": 6.5, "color": "#333333", "clip": false},
 "encoding": {"x": {"datum": 116.3, "type": "quantitative", "scale": {"domain": [-0.19, 115.75], "nice": false}}, "y": {"field": "p", "type": "quantitative", "scale": {"domain": [2697, 3010], "nice": false}}, "text": {"field": "p", "type": "quantitative", "format": ".2f"}}},
{"data": {"values": [{}]}, "mark": {"type": "rect", "color": "#9b5a2a", "clip": false},
 "encoding": {"x": {"datum": 115.9, "type": "quantitative", "scale": {"domain": [-0.19, 115.75], "nice": false}}, "x2": {"datum": 119.8}, "y": {"datum": 3003.7, "type": "quantitative", "scale": {"domain": [2697, 3010], "nice": false}}, "y2": {"datum": 2996.3}}},
{"data": {"values": [{}]}, "mark": {"type": "text", "fontSize": 7, "color": "white", "text": "3000.00", "clip": false},
 "encoding": {"x": {"datum": 117.85, "type": "quantitative", "scale": {"domain": [-0.19, 115.75], "nice": false}}, "y": {"datum": 3000, "type": "quantitative", "scale": {"domain": [2697, 3010], "nice": false}}}},
{"data": {"values": [{}]}, "mark": {"type": "rect", "color": "#111111", "clip": false},
 "encoding": {"x": {"datum": 115.9, "type": "quantitative", "scale": {"domain": [-0.19, 115.75], "nice": false}}, "x2": {"datum": 119.8}, "y": {"datum": 2876.1, "type": "quantitative", "scale": {"domain": [2697, 3010], "nice": false}}, "y2": {"datum": 2868.6}}},
{"data": {"values": [{}]}, "mark": {"type": "text", "fontSize": 7, "color": "white", "text": "2872.37", "clip": false},
 "encoding": {"x": {"datum": 117.85, "type": "quantitative", "scale": {"domain": [-0.19, 115.75], "nice": false}}, "y": {"datum": 2872.37, "type": "quantitative", "scale": {"domain": [2697, 3010], "nice": false}}}}
]},
{"data": {"name": "info"},
 "layer": [
 {"mark": {"type": "text", "align": "right", "fontSize": 8.5, "color": "#3d3dc8"},
  "encoding": {"x": {"datum": 113.4, "type": "quantitative", "scale": {"domain": [-0.19, 115.75], "nice": false}, "axis": null},
   "y": {"field": "row", "type": "ordinal", "scale": {"type": "point", "domain": ["Spread","Pips to Open","Today's Range","Prev 5 Days Av","Prev 10 Day Av","Prev 30 Day Av","Prev Days Range"], "range": [92, 188], "padding": 0}, "axis": null},
   "text": {"field": "row"}}},
 {"mark": {"type": "text", "align": "right", "fontSize": 8.5},
  "encoding": {"x": {"datum": 115.05, "type": "quantitative", "scale": {"domain": [-0.19, 115.75], "nice": false}, "axis": null},
   "y": {"field": "row", "type": "ordinal", "axis": null},
   "text": {"field": "val"},
   "color": {"condition": [{"test": "datum.row === 'Spread'", "value": "#e6a33a"}, {"test": "datum.row === 'Pips to Open'", "value": "#5ccc5c"}], "value": "#3c9a3c"}}}
 ]},
{"data": {"name": "signals"},
 "layer": [
 {"mark": {"type": "rect"},
  "encoding": {"x": {"field": "tf", "type": "ordinal", "scale": {"type": "band", "domain": ["H1","H4","D1","W1","MN"], "range": [902, 972], "paddingInner": 0.2, "paddingOuter": 0.1}, "axis": null},
   "y": {"field": "ind", "type": "ordinal", "scale": {"type": "band", "domain": ["MACD","STR","EMA"], "range": [32.5, 56.5], "paddingInner": 0.5, "paddingOuter": 0.25}, "axis": null},
   "color": {"field": "state", "type": "nominal", "scale": {"domain": ["up","strong_up","down","neutral","strong_down"], "range": ["#33dd33","#1a7a1a","#f08060","#f0a030","#dd2020"]}, "legend": null}}},
 {"transform": [{"filter": "datum.ind === 'MACD'"}],
  "mark": {"type": "text", "dy": -12, "fontSize": 6.5, "fontWeight": "bold", "color": "#2e2eb8"},
  "encoding": {"x": {"field": "tf", "type": "ordinal", "axis": null}, "y": {"datum": "MACD", "type": "ordinal", "axis": null}, "text": {"field": "tf"}}},
 {"transform": [{"filter": "datum.tf === 'H1'"}],
  "mark": {"type": "text", "align": "right", "dx": -7, "fontSize": 5.5, "color": "#6a3cae"},
  "encoding": {"x": {"datum": "H1", "type": "ordinal", "axis": null}, "y": {"field": "ind", "type": "ordinal", "axis": null}, "text": {"field": "ind"}}},
 {"transform": [{"filter": "datum.tf === 'H1' && datum.ind === 'MACD'"}],
  "mark": {"type": "text", "text": "Signals", "dy": -23, "dx": 4, "fontSize": 7.5, "color": "#5a5ab4"},
  "encoding": {"x": {"datum": "D1", "type": "ordinal", "axis": null}, "y": {"datum": "MACD", "type": "ordinal", "axis": null}}}
 ]}
],
"resolve": {"scale": {"x": "independent", "y": "independent", "color": "independent"}}
},
{
"width": 989, "height": 69,
"layer": [
{"data": {"name": "seps"}, "mark": {"type": "rule", "color": "#c6c6c6"},
 "encoding": {"x": {"field": "i", "type": "quantitative", "scale": {"domain": [-0.19, 115.75], "nice": false}, "axis": null}}},
{"data": {"values": [{}]}, "mark": {"type": "rule", "color": "#b9804f"},
 "encoding": {"y": {"datum": 20, "type": "quantitative", "scale": {"domain": [1.88, 51.88], "nice": false}, "axis": null}}},
{"data": {"name": "adx"}, "mark": {"type": "line", "strokeWidth": 1, "clip": true},
 "encoding": {"x": {"field": "i", "type": "quantitative", "scale": {"domain": [-0.19, 115.75], "nice": false}},
  "y": {"field": "v", "type": "quantitative", "scale": {"domain": [1.88, 51.88], "nice": false}},
  "color": {"field": "s", "type": "nominal", "scale": {"domain": ["ADX","+DI","-DI"], "range": ["#3a3a3a","#7acb7a","#c85050"]}, "legend": null},
  "detail": {"field": "s"}}},
{"data": {"values": [{}]}, "mark": {"type": "text", "align": "left", "fontSize": 6.5, "color": "#222222", "text": "ADX(14) 40.4969 +DI:26.5164 -DI:11.8751"},
 "encoding": {"x": {"datum": 0.0, "type": "quantitative", "scale": {"domain": [-0.19, 115.75], "nice": false}}, "y": {"datum": 48.3, "type": "quantitative", "scale": {"domain": [1.88, 51.88], "nice": false}}}},
{"data": {"name": "aticks"}, "mark": {"type": "text", "align": "left", "baseline": "top", "fontSize": 6.5, "color": "#333333", "clip": false},
 "encoding": {"x": {"datum": 116.3, "type": "quantitative", "scale": {"domain": [-0.19, 115.75], "nice": false}}, "y": {"field": "v", "type": "quantitative", "scale": {"domain": [1.88, 51.88], "nice": false}}, "text": {"field": "v", "type": "quantitative"}}},
{"data": {"values": [{}]}, "mark": {"type": "text", "align": "left", "baseline": "bottom", "fontSize": 6.5, "color": "#333333", "text": "2", "clip": false},
 "encoding": {"x": {"datum": 116.3, "type": "quantitative", "scale": {"domain": [-0.19, 115.75], "nice": false}}, "y": {"datum": 2.2, "type": "quantitative", "scale": {"domain": [1.88, 51.88], "nice": false}}}},
{"data": {"values": [{}]}, "mark": {"type": "rect", "color": "#9b5a2a", "clip": false},
 "encoding": {"x": {"datum": 115.9, "type": "quantitative", "scale": {"domain": [-0.19, 115.75], "nice": false}}, "x2": {"datum": 119.8}, "y": {"datum": 21.9, "type": "quantitative", "scale": {"domain": [1.88, 51.88], "nice": false}}, "y2": {"datum": 15.3}}},
{"data": {"values": [{}]}, "mark": {"type": "text", "fontSize": 7, "color": "white", "text": "20.0000", "clip": false},
 "encoding": {"x": {"datum": 117.85, "type": "quantitative", "scale": {"domain": [-0.19, 115.75], "nice": false}}, "y": {"datum": 18.6, "type": "quantitative", "scale": {"domain": [1.88, 51.88], "nice": false}}}}
]
},
{
"width": 989, "height": 13,
"layer": [
{"data": {"name": "seps"}, "mark": {"type": "rule", "color": "#c6c6c6"},
 "encoding": {"x": {"field": "i", "type": "quantitative", "scale": {"domain": [-0.19, 115.75], "nice": false}, "axis": null}}},
{"data": {"name": "arrows"}, "transform": [{"filter": "datum.sig === 'flat'"}],
 "mark": {"type": "point", "shape": "M-1,-0.3L0.1,-0.3L0.1,-0.75L1,0L0.1,0.75L0.1,0.3L-1,0.3Z", "filled": false, "stroke": "#b4b4b4", "strokeWidth": 0.8, "size": 36},
 "encoding": {"x": {"field": "i", "type": "quantitative", "scale": {"domain": [-0.19, 115.75], "nice": false}},
  "y": {"datum": 0, "type": "quantitative", "scale": {"domain": [-0.12, 0.12], "nice": false}, "axis": null}}},
{"data": {"name": "arrows"}, "transform": [{"filter": "datum.sig === 'dn'"}],
 "mark": {"type": "point", "shape": "M-0.3,-1L-0.3,0.1L-0.75,0.1L0,1L0.75,0.1L0.3,0.1L0.3,-1Z", "filled": false, "stroke": "#f09a9a", "strokeWidth": 0.9, "size": 42},
 "encoding": {"x": {"field": "i", "type": "quantitative", "scale": {"domain": [-0.19, 115.75], "nice": false}}, "y": {"datum": 0, "type": "quantitative", "scale": {"domain": [-0.12, 0.12], "nice": false}}}},
{"data": {"name": "arrows"}, "transform": [{"filter": "datum.sig === 'uph'"}],
 "mark": {"type": "point", "shape": "M-0.3,1L-0.3,-0.1L-0.75,-0.1L0,-1L0.75,-0.1L0.3,-0.1L0.3,1Z", "filled": false, "stroke": "#5cb85c", "strokeWidth": 0.9, "size": 42},
 "encoding": {"x": {"field": "i", "type": "quantitative", "scale": {"domain": [-0.19, 115.75], "nice": false}}, "y": {"datum": 0, "type": "quantitative", "scale": {"domain": [-0.12, 0.12], "nice": false}}}},
{"data": {"name": "arrows"}, "transform": [{"filter": "datum.sig === 'up'"}],
 "mark": {"type": "point", "shape": "M-0.3,1L-0.3,-0.1L-0.75,-0.1L0,-1L0.75,-0.1L0.3,-0.1L0.3,1Z", "filled": true, "color": "#127a12", "opacity": 1, "size": 46},
 "encoding": {"x": {"field": "i", "type": "quantitative", "scale": {"domain": [-0.19, 115.75], "nice": false}}, "y": {"datum": 0, "type": "quantitative", "scale": {"domain": [-0.12, 0.12], "nice": false}}}},
{"data": {"values": [{}]}, "mark": {"type": "text", "align": "left", "fontSize": 7, "color": "#222222", "text": "TG Trigger"},
 "encoding": {"x": {"datum": 0.2, "type": "quantitative", "scale": {"domain": [-0.19, 115.75], "nice": false}}, "y": {"datum": 0.02, "type": "quantitative", "scale": {"domain": [-0.12, 0.12], "nice": false}}}},
{"data": {"name": "sticks"}, "mark": {"type": "text", "align": "left", "fontSize": 6, "color": "#333333", "clip": false},
 "encoding": {"x": {"datum": 116.3, "type": "quantitative", "scale": {"domain": [-0.19, 115.75], "nice": false}}, "y": {"field": "v", "type": "quantitative", "scale": {"domain": [-0.12, 0.12], "nice": false}}, "text": {"field": "v", "type": "quantitative", "format": ".1f"}}}
]
},
{
"width": 989, "height": 12,
"view": {"stroke": null},
"data": {"name": "dates"},
"mark": {"type": "text", "fontSize": 7, "color": "#1a1a1a"},
"encoding": {"x": {"field": "i", "type": "quantitative", "scale": {"domain": [-0.19, 115.75], "nice": false}, "axis": null}, "text": {"field": "t"}}
},
{
"width": 1024, "height": 17,
"view": {"stroke": null},
"data": {"name": "tabs"},
"layer": [
{"mark": {"type": "rect", "strokeWidth": 1, "clip": true},
 "encoding": {"x": {"field": "tab", "type": "nominal", "scale": {"type": "band", "domain": ["USDCHF,H4","ASX200,M15","ASX200,H4","US500,H4","NDX100,H1","XAUUSD,M15","XAUUSD,H4","USOUSD,H4","EURUSD,M15","EURUSD,H4","AUDUSD,M15","AUDUSD,H4","AUDJPY,M15","AUDJPY,H4","GBPUSD,M15","GBPUSD,H4","NZDUSD,M15","NZ  ◂ ▸"], "range": [0, 1035], "paddingInner": 0, "paddingOuter": 0}, "axis": null},
  "y": {"datum": 0, "type": "quantitative", "scale": {"domain": [0, 1], "nice": false}, "axis": null},
  "y2": {"datum": 1},
  "fill": {"condition": {"test": "datum.active", "value": "#ffffff"}, "value": "#efefef"},
  "stroke": {"condition": {"test": "datum.active", "value": "#8a8a8a"}, "value": "#cfcfcf"}}},
{"mark": {"type": "text", "fontSize": 8, "clip": true},
 "encoding": {"x": {"field": "tab", "type": "nominal"}, "y": {"datum": 0.5, "type": "quantitative", "scale": {"domain": [0, 1], "nice": false}}, "text": {"field": "tab"},
  "color": {"condition": {"test": "datum.active", "value": "#222222"}, "value": "#6e6e6e"}}}
]
}
]
}
